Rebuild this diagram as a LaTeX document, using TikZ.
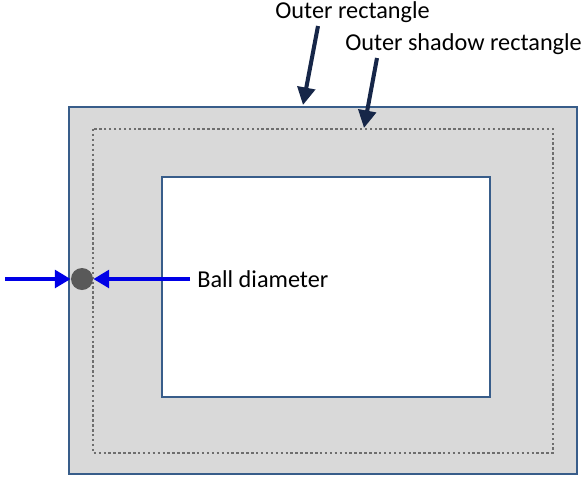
\documentclass[tikz,border=0pt]{standalone}
\usepackage{fontspec}
\setmainfont{Carlito}
\definecolor{frameblue}{RGB}{56,93,138}
\definecolor{shadegray}{RGB}{217,217,217}
\definecolor{dotgray}{RGB}{110,110,110}
\definecolor{ballgray}{RGB}{89,89,89}
\definecolor{navyarrow}{RGB}{22,38,72}
\definecolor{pureblue}{RGB}{0,0,230}
\usetikzlibrary{arrows.meta,positioning,calc}

\begin{document}
\begin{tikzpicture}[x=0.02cm,y=-0.02cm,
  label/.style={font=\fontsize{13.8}{16}\selectfont,inner sep=0pt,anchor=west},
  pointer/.style={navyarrow,line width=2.3pt,-{Triangle[length=10pt,width=10pt]}},
  blueptr/.style={pureblue,line width=2.3pt,-{Triangle[length=9pt,width=10pt]}}]
\useasboundingbox (0,0) rectangle (581,478);
% rectangles
\draw[frameblue,line width=1pt,fill=shadegray] (69,107) rectangle (577,474);
\draw[dotgray,line width=1.4pt,dash pattern=on 1.4pt off 1.4pt] (93,129) rectangle (553,453);
\draw[frameblue,line width=1pt,fill=white] (162,177) rectangle (490,397);
% ball
\node[circle,fill=ballgray,inner sep=0pt,minimum size=0.44cm] (ball) at (82,279) {};
% labels
\node[label] (outer) at (275,12) {Outer rectangle};
\node[label] (shadow) at (345,44) {Outer shadow rectangle};
\node[label] (diam) at (197,279) {Ball diameter};
% arrow ends
\coordinate (outerstart) at (318,26);
\coordinate (outertip) at (303,105);
\coordinate (shadowstart) at (377,58);
\coordinate (shadowtip) at (364,128);
\coordinate (leftstart) at (5,279);
\coordinate (rightstart) at (190,279);
\draw[pointer] (outerstart) -- (outertip);
\draw[pointer] (shadowstart) -- (shadowtip);
\draw[blueptr] (leftstart) -- (ball.west);
\draw[blueptr] (rightstart) -- (ball.east);
\end{tikzpicture}
\end{document}
